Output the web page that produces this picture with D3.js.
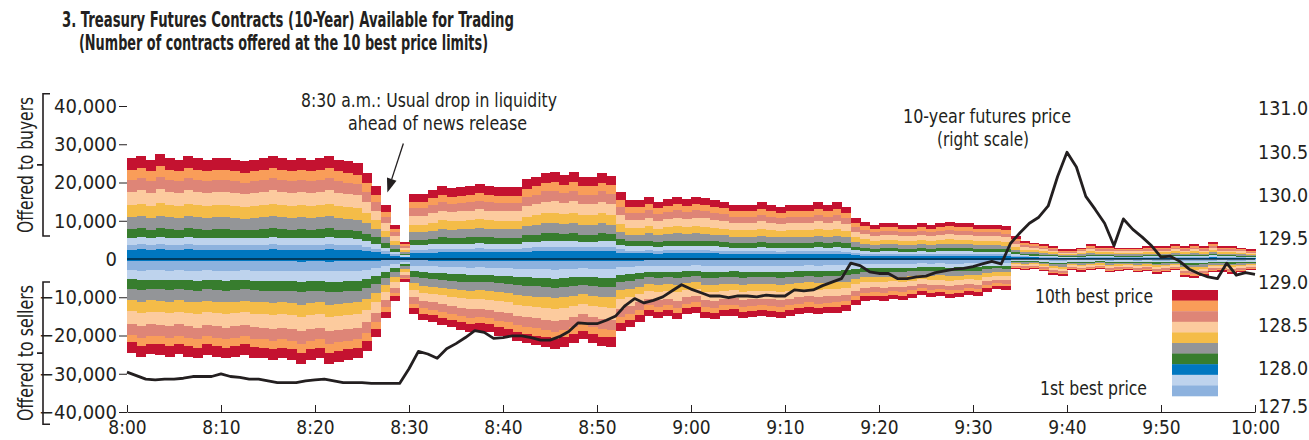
<!DOCTYPE html>
<html>
<head>
<meta charset="utf-8">
<script src="https://cdn.jsdelivr.net/npm/d3@7"></script>
<style>
  body { margin: 0; background: #fff; }
  svg text { font-family: "Liberation Sans Narrow", "Arial Narrow", "DejaVu Sans Condensed", sans-serif; fill: #231f20; }
</style>
</head>
<body>
<svg id="chart" width="1309" height="440"></svg>
<script>
// ---- Data ----------------------------------------------------------------
// Minutes after 8:00 a.m. for the time axis ticks, with their labels.
const timeTickMinutes = [0, 10, 20, 30, 40, 50, 60, 70, 80, 90, 100, 110, 120];
const timeTickLabels = ["8:00", "8:10", "8:20", "8:30", "8:40", "8:50", "9:00", "9:10", "9:20", "9:30", "9:40", "9:50", "10:00"];
const depthTicks = [40000, 30000, 20000, 10000, 0, -10000, -20000, -30000, -40000];
const priceTicks = [127.5, 128.0, 128.5, 129.0, 129.5, 130.0, 130.5, 131.0];

// Price levels, from the best price outward.
const levelKeys = ["L1", "L2", "L3", "L4", "L5", "L6", "L7", "L8", "L9", "L10"];
const levelColors = ["#0077c0", "#8db2de", "#bed3ed", "#377d2e", "#939598",
                     "#f4bc48", "#fccb9e", "#de8577", "#f99d59", "#c41230"];
// Legend swatches, top to bottom (10th best price first).
const legendColors = ["#c41230", "#f99d59", "#de8577", "#fccb9e", "#f4bc48",
                      "#939598", "#377d2e", "#0077c0", "#bed3ed", "#8db2de"];

// Total contracts offered to buyers / sellers, one value per minute (8:00-9:59).
const bidTotal = [
  26500, 27000, 26000, 27500, 26500, 26000, 27000, 26500, 26000, 26500,
  26500, 26000, 25500, 26000, 26500, 27000, 26500, 26000, 26500, 26000,
  26500, 27000, 26000, 25500, 25000, 22500, 19000, 14000, 9000, 4500,
  17000, 17000, 18000, 19000, 18500, 18800, 19000, 19500, 19000, 18800,
  18700, 18800, 20800, 21500, 22600, 22800, 22000, 22800, 21500, 21500,
  22600, 21800, 17400, 15500, 15500, 16300, 15000, 15800, 16300, 15800,
  16300, 16000, 15500, 15000, 14200, 14200, 14200, 14800, 14200, 13700,
  14200, 14200, 14200, 14800, 14200, 14800, 13700, 10800, 9800, 9000,
  9500, 9500, 9000, 9000, 9500, 9000, 9500, 9800, 9500, 9500,
  9000, 9000, 9000, 8500, 5900, 4600, 4300, 3800, 3300, 2500,
  2500, 3000, 3800, 3300, 3300, 3000, 3000, 3000, 3300, 3300,
  3300, 3800, 3300, 3800, 3300, 4500, 3300, 3300, 3000, 2500
];
const askTotal = [
  24500, 25500, 24800, 25000, 25500, 24800, 25500, 26000, 25000, 25500,
  26000, 25500, 25000, 25800, 26000, 26500, 26000, 26500, 27500, 26500,
  26000, 27500, 27000, 26500, 26000, 24000, 20500, 15500, 11000, 6000,
  14500, 16000, 16500, 17200, 17800, 18500, 19000, 18800, 19200, 20000,
  20500, 21500, 22000, 22500, 23000, 23500, 23000, 22000, 21000, 22000,
  22800, 23000, 18800, 17800, 16500, 15000, 15500, 15000, 15800, 14500,
  14000, 15500, 15800, 15000, 14800, 15500, 15200, 15000, 15200, 15500,
  15000, 14500, 14000, 14500, 14200, 14000, 13500, 12000, 11000, 10800,
  11000, 10500, 10800, 10200, 9500, 10000, 9800, 10200, 10000, 9500,
  9800, 8500, 7800, 8000, 2500, 2800, 2500, 3200, 4200, 4500,
  3000, 3300, 3000, 2600, 3500, 3200, 3000, 3500, 3200, 3800,
  3500, 3000, 4600, 5000, 4500, 3500, 3300, 3800, 3500, 3000
];
// Share of each side's depth sitting at each price level (best price first).
const bidLevelShare = [0.093, 0.050, 0.068, 0.085, 0.117, 0.117, 0.135, 0.117, 0.100, 0.118];
const askLevelShare = [0.024, 0.094, 0.100, 0.100, 0.118, 0.118, 0.135, 0.118, 0.084, 0.109];

// 10-year futures price, one value per minute (8:00-10:00).
const futuresPrice = [
  127.96, 127.92, 127.88, 127.87, 127.88, 127.88, 127.89, 127.91, 127.91, 127.91,
  127.94, 127.91, 127.90, 127.88, 127.88, 127.86, 127.84, 127.84, 127.84, 127.86,
  127.87, 127.88, 127.86, 127.84, 127.84, 127.84, 127.83, 127.83, 127.83, 127.83,
  128.00, 128.20, 128.17, 128.12, 128.23, 128.29, 128.36, 128.44, 128.42, 128.35,
  128.36, 128.38, 128.38, 128.36, 128.33, 128.33, 128.37, 128.43, 128.53, 128.52,
  128.52, 128.56, 128.61, 128.73, 128.81, 128.76, 128.79, 128.83, 128.90, 128.97,
  128.92, 128.88, 128.84, 128.84, 128.82, 128.84, 128.84, 128.83, 128.85, 128.84,
  128.84, 128.91, 128.90, 128.91, 128.96, 129.00, 129.04, 129.22, 129.19, 129.12,
  129.10, 129.10, 129.04, 129.04, 129.06, 129.07, 129.11, 129.13, 129.15, 129.16,
  129.18, 129.21, 129.24, 129.21, 129.45, 129.57, 129.68, 129.75, 129.88, 130.22,
  130.50, 130.33, 129.99, 129.84, 129.68, 129.42, 129.73, 129.61, 129.52, 129.42,
  129.29, 129.30, 129.24, 129.15, 129.10, 129.06, 129.04, 129.22, 129.08, 129.11,
  129.09
];

// ---- Layout ---------------------------------------------------------------
const svg = d3.select("#chart");
const plotLeft = 127, plotRight = 1255, plotTop = 106, plotBottom = 412;
const ink = "#231f20";

const x = d3.scaleLinear().domain([0, 120]).range([plotLeft, plotRight]);
const yDepth = d3.scaleLinear().domain([-40000, 40000]).range([plotBottom, plotTop]);
const yPrice = d3.scaleLinear().domain([127.5, 131.0]).range([plotBottom, 109]);

// Build one row per minute with the contracts at each price level.
function levelRows(total, share) {
  return total.map((t, i) => {
    const row = { minute: i };
    levelKeys.forEach((k, j) => { row[k] = t * share[j]; });
    return row;
  });
}
const stack = d3.stack().keys(levelKeys);
const bidSeries = stack(levelRows(bidTotal, bidLevelShare));
const askSeries = stack(levelRows(askTotal, askLevelShare));

const bars = svg.append("g").attr("shape-rendering", "crispEdges");

function drawSide(series, sign) {
  bars.append("g").selectAll("g")
    .data(series)
    .join("g")
      .attr("fill", (d, i) => levelColors[i])
    .selectAll("rect")
    .data(d => d)
    .join("rect")
      .attr("x", d => x(d.data.minute))
      .attr("width", d => x(d.data.minute + 1) - x(d.data.minute) + 0.5)
      .attr("y", d => sign > 0 ? yDepth(d[1]) : yDepth(-d[0]))
      .attr("height", d => Math.abs(yDepth(d[1]) - yDepth(d[0])));
}
drawSide(bidSeries, 1);
drawSide(askSeries, -1);

// Zero line
svg.append("line")
  .attr("x1", plotLeft).attr("x2", plotRight)
  .attr("y1", yDepth(0)).attr("y2", yDepth(0))
  .attr("stroke", "#000").attr("stroke-width", 1);

// Time axis along the bottom, ticks pointing up.
const xAxis = d3.axisBottom(x)
  .tickValues(timeTickMinutes)
  .tickFormat((d, i) => timeTickLabels[i])
  .tickSizeInner(-7).tickSizeOuter(0).tickPadding(9);
const gx = svg.append("g").attr("transform", `translate(0,${plotBottom})`).call(xAxis);
gx.select(".domain").attr("stroke", ink).attr("stroke-width", 1);
gx.selectAll(".tick line").attr("stroke", ink);
gx.selectAll("text").attr("font-size", 19).attr("fill", ink)
  .attr("font-family", null);

// Left depth axis: labels with short ticks, no spine.
const yAxisL = d3.axisLeft(yDepth)
  .tickValues(depthTicks)
  .tickFormat(d => d === 0 ? "0" : (d < 0 ? "\u2212" : "") + d3.format(",")(Math.abs(d)))
  .tickSizeInner(8).tickSizeOuter(0).tickPadding(2);
const gyl = svg.append("g").attr("transform", `translate(${plotLeft},0)`).call(yAxisL);
gyl.select(".domain").remove();
gyl.selectAll(".tick line").attr("stroke", ink)
  .filter(d => d === 0).remove();
gyl.selectAll("text").attr("font-size", 20).attr("fill", ink).attr("font-family", null);

// Right price axis: labels only (bottom label nudged up clear of the time labels).
const yAxisR = d3.axisRight(yPrice)
  .tickValues(priceTicks)
  .tickFormat(d3.format(".1f"))
  .tickSize(0).tickPadding(3);
const gyr = svg.append("g").attr("transform", `translate(${plotRight},0)`).call(yAxisR);
gyr.select(".domain").remove();
gyr.selectAll("text").attr("font-size", 19.5).attr("fill", ink).attr("font-family", null)
  .attr("dy", "0.3em")
  .filter(d => d === 127.5).attr("y", -5);

// Futures price line (right scale)
svg.append("path")
  .datum(futuresPrice)
  .attr("fill", "none")
  .attr("stroke", ink)
  .attr("stroke-width", 2.8)
  .attr("stroke-linejoin", "round")
  .attr("d", d3.line().x((d, i) => x(i)).y(d => yPrice(d)));

// Brackets for the two halves of the depth axis.
function bracket(lo, hi, label) {
  const bx = 43;
  const y0 = yDepth(lo), y1 = yDepth(hi), ym = (y0 + y1) / 2;
  svg.append("path")
    .attr("d", `M${bx + 7},${y0}H${bx}V${y1}H${bx + 7}M${bx},${ym}H${bx - 6}`)
    .attr("fill", "none").attr("stroke", ink).attr("stroke-width", 1.6);
  svg.append("text")
    .attr("transform", `translate(33,${ym}) rotate(-90)`)
    .attr("text-anchor", "middle")
    .attr("font-size", 20.5)
    .attr("textLength", 136).attr("lengthAdjust", "spacingAndGlyphs")
    .text(label);
}
bracket(6000, 43200, "Offered to buyers");
bracket(-6000, -43200, "Offered to sellers");

// Text helper with a fixed rendered width.
function label(str, x0, y0, w, opts = {}) {
  return svg.append("text")
    .attr("x", x0).attr("y", y0)
    .attr("font-size", opts.size || 20)
    .attr("font-weight", opts.bold ? "bold" : null)
    .attr("textLength", w).attr("lengthAdjust", "spacingAndGlyphs")
    .text(str);
}

// Title
label("3. Treasury Futures Contracts (10-Year) Available for Trading", 62, 27, 452, { bold: true, size: 22 });
label("(Number of contracts offered at the 10 best price limits)", 79, 50, 409, { bold: true, size: 22 });

// 8:30 annotation with arrow
label("8:30 a.m.: Usual drop in liquidity", 301, 107, 256);
label("ahead of news release", 348, 130, 179);
{
  const tail = [x(29.4), yDepth(30200)];
  const tip = [x(27.7), yDepth(17400)];
  const dx = tip[0] - tail[0], dy = tip[1] - tail[1];
  const len = Math.hypot(dx, dy), ux = dx / len, uy = dy / len;
  const headLen = 14, headHalf = 5;
  const bxm = tip[0] - ux * headLen, bym = tip[1] - uy * headLen;
  svg.append("line")
    .attr("x1", tail[0]).attr("y1", tail[1]).attr("x2", bxm).attr("y2", bym)
    .attr("stroke", ink).attr("stroke-width", 1.3);
  svg.append("path")
    .attr("d", `M${tip[0]},${tip[1]}L${bxm - uy * headHalf},${bym + ux * headHalf}L${bxm + uy * headHalf},${bym - ux * headHalf}Z`)
    .attr("fill", ink);
}

// Price line annotation
label("10-year futures price", 903, 123, 168);
label("(right scale)", 937, 146, 92);

// Legend
const legendX = 1172, legendTop = 290, swatchH = 10.6, swatchW = 46;
svg.append("g").selectAll("rect")
  .data(legendColors)
  .join("rect")
    .attr("x", legendX)
    .attr("y", (d, i) => legendTop + i * swatchH)
    .attr("width", swatchW)
    .attr("height", swatchH + 0.3)
    .attr("fill", d => d);
label("10th best price", 1035, 303, 118);
label("1st best price", 1040, 395, 107);
</script>
</body>
</html>
